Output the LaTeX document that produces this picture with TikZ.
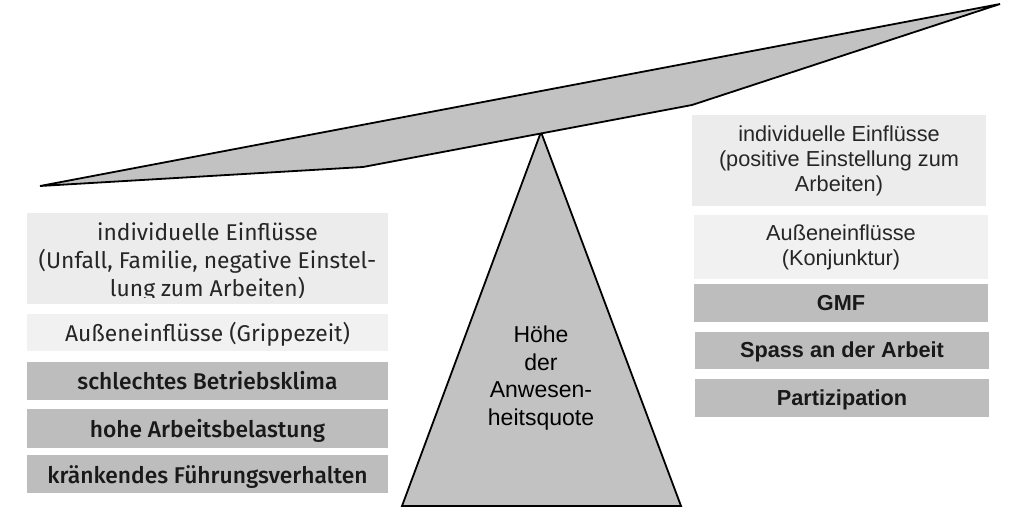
\documentclass[tikz,border=0pt]{standalone}
\usepackage{fontspec}
\setmainfont{Liberation Sans}
\newfontfamily\leftfont[BoldFont={Fira Sans Medium}]{Fira Sans}
\tikzset{
  x=1pt,y=-1pt,
  dn/.style={text height=2*#1,text depth=0pt},
  lightbox/.style={fill=boxlight,draw=none,inner sep=0pt,align=center,text=black!85,font=\rightfontsz},
  lighterbox/.style={lightbox,fill=boxlighter},
  darkbox/.style={fill=boxdark,draw=none,inner sep=0pt,align=center,text=black!90,font=\rightfontsz\bfseries},
  leftlight/.style={lightbox,font=\leftfontsz},
  leftlighter/.style={lighterbox,font=\leftfontsz},
  leftdark/.style={darkbox,font=\leftfontsz\bfseries},
  balance/.style={fill=beamgrey,draw=black,line width=1.8pt,line join=miter},
}
\newcommand{\rightfontsz}{\fontsize{21.7}{25}\selectfont}
\newcommand{\leftfontsz}{\leftfont\fontsize{22.8}{27.7}\selectfont}
\definecolor{boxlight}{gray}{0.925}
\definecolor{boxlighter}{gray}{0.945}
\definecolor{boxdark}{gray}{0.74}
\definecolor{beamgrey}{gray}{0.76}
\newcommand{\boxat}[7]{\node[#1,minimum width=#4-#3,minimum height=#6-#5] (#2) at ({(#3+#4)/2},{(#5+#6)/2}) {#7};}
\begin{document}
\begin{tikzpicture}
\useasboundingbox (0,0) rectangle (1024,522);
\coordinate (b1) at (40,186);
\coordinate (b2) at (363,167);
\coordinate (b3) at (692,105);
\coordinate (b4) at (1000,4);
\coordinate (t1) at (541,132);
\coordinate (t2) at (681,506);
\coordinate (t3) at (402,506);
\draw[balance] (t1) -- (t2) -- (t3) -- cycle;
\draw[balance] (b1) -- (b2) -- (b3) -- (b4) -- cycle;
\node[align=center,font=\fontsize{23}{27.7}\selectfont,inner sep=0pt,text=black] (q) at (541,378) {Höhe\\der\\Anwesen-\\heitsquote};
\boxat{leftlight}{l1}{27}{388}{213}{304}{\rule{0pt}{25pt}individuelle Einflüsse\\(Unfall, Familie, negative Einstel-\\lung zum Arbeiten)}
\fill[boxlight] (27,298) rectangle (388,304);
\boxat{leftlighter,dn=8.5pt}{l2}{27}{388}{314}{351}{Außeneinflüsse (Grippezeit)}
\boxat{leftdark,dn=8.5pt}{l3}{27}{388}{362}{400}{schlechtes Betriebsklima}
\boxat{leftdark,dn=8.5pt}{l4}{27}{388}{409}{448}{hohe Arbeitsbelastung}
\boxat{leftdark,dn=9pt}{l5}{27}{388}{455}{493}{kränkendes Führungsverhalten}
\boxat{lightbox}{r1}{692}{986}{115}{206}{individuelle Einflüsse\\(positive Einstellung zum\\Arbeiten)}
\boxat{lighterbox}{r2}{694}{988}{215}{279}{Außeneinflüsse\\(Konjunktur)}
\boxat{darkbox,dn=7pt}{r3}{694}{988}{284}{322}{GMF}
\boxat{darkbox,dn=6.5pt}{r4}{695}{989}{332}{369}{Spass an der Arbeit}
\boxat{darkbox,dn=7pt}{r5}{695}{989}{379}{417}{Partizipation}
\end{tikzpicture}
\end{document}
